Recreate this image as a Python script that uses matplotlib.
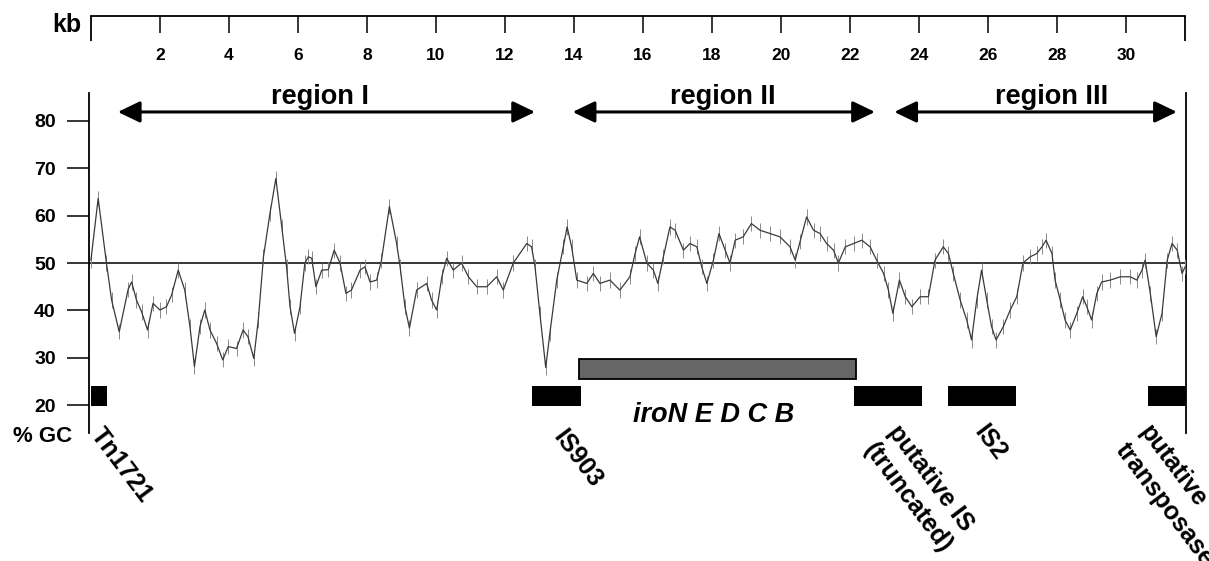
import matplotlib
matplotlib.use("Agg")
import matplotlib.pyplot as plt

plt.rcParams['font.family'] = ['Liberation Sans', 'DejaVu Sans']
plt.rcParams['font.weight'] = 'bold'

# ---------------- data ----------------
kb_pos = [0.0, 0.21, 0.45, 0.6, 0.82, 1.08, 1.18, 1.32, 1.47, 1.64, 1.8, 2.0, 2.19, 2.34,
          2.53, 2.72, 2.87, 3.0, 3.16, 3.3, 3.45, 3.64, 3.82, 3.98, 4.22, 4.41, 4.55, 4.72,
          4.85, 5.0, 5.19, 5.36, 5.53, 5.67, 5.77, 5.9, 6.06, 6.2, 6.3, 6.4, 6.52, 6.69,
          6.88, 7.05, 7.22, 7.39, 7.55, 7.8, 7.94, 8.09, 8.28, 8.42, 8.65, 8.86, 8.96, 9.1,
          9.23, 9.44, 9.73, 9.87, 10.02, 10.17, 10.31, 10.5, 10.74, 10.94, 11.18, 11.47,
          11.76, 11.95, 12.24, 12.63, 12.77, 12.87, 13.01, 13.18, 13.3, 13.5, 13.69, 13.8,
          13.93, 14.08, 14.37, 14.56, 14.75, 15.04, 15.33, 15.62, 15.77, 15.9, 16.11, 16.3,
          16.43, 16.59, 16.78, 16.93, 17.17, 17.36, 17.56, 17.7, 17.85, 18.04, 18.2, 18.38,
          18.52, 18.67, 18.9, 19.14, 19.39, 19.68, 19.97, 20.26, 20.41, 20.55, 20.74, 20.94,
          21.13, 21.32, 21.52, 21.66, 21.86, 22.1, 22.34, 22.58, 22.77, 22.97, 23.11, 23.24,
          23.43, 23.6, 23.79, 24.03, 24.27, 24.46, 24.7, 24.85, 24.99, 25.19, 25.38, 25.52,
          25.67, 25.81, 25.96, 26.1, 26.23, 26.44, 26.64, 26.83, 27.01, 27.22, 27.41, 27.56,
          27.68, 27.85, 27.94, 28.09, 28.23, 28.38, 28.57, 28.74, 28.86, 29.0, 29.15, 29.29,
          29.54, 29.83, 30.12, 30.31, 30.46, 30.55, 30.7, 30.87, 31.04, 31.19, 31.33, 31.48,
          31.62, 31.71]
gc_pct = [50.6, 63.6, 50.0, 42.2, 35.5, 44.5, 46.0, 42.2, 39.7, 35.9, 41.5, 40.1, 40.8, 43.3,
          48.5, 44.3, 36.6, 28.2, 36.6, 40.1, 35.9, 33.1, 29.6, 32.4, 32.0, 35.9, 34.5, 29.9,
          38.0, 51.3, 60.5, 67.8, 57.6, 49.2, 40.8, 35.2, 40.8, 50.0, 51.3, 51.0, 45.0, 48.5,
          48.6, 52.7, 50.0, 43.6, 44.3, 48.5, 49.2, 46.0, 46.4, 50.6, 61.9, 54.1, 49.2, 40.8,
          36.3, 44.3, 45.7, 42.2, 40.1, 47.1, 51.0, 48.5, 50.0, 47.1, 45.0, 45.0,
          47.1, 44.3, 50.0, 54.1, 53.4, 49.2, 39.4, 28.0, 35.2, 46.4, 53.4, 57.6,
          53.4, 46.4, 45.7, 47.8, 45.7, 46.4, 44.3, 47.1, 52.0, 55.5, 50.0, 48.5,
          45.7, 51.3, 57.6, 56.9, 52.7, 54.1, 53.4, 49.2, 45.7, 50.6, 56.2, 52.7,
          50.0, 54.8, 55.5, 58.3, 56.9, 56.2, 55.5, 53.4, 50.6, 54.5, 59.7, 56.9,
          56.2, 54.1, 52.7, 50.0, 53.4, 54.1, 54.8, 53.4, 50.6, 47.8, 44.3, 39.4,
          46.4, 42.9, 40.8, 42.9, 42.9, 50.6, 53.4, 52.0, 47.8, 42.2, 38.0, 33.8,
          42.2, 48.5, 42.2, 36.6, 33.8, 36.6, 40.1, 42.9, 50.0, 51.3, 52.0, 53.4,
          54.8, 52.0, 46.4, 42.2, 38.0, 35.9, 39.4, 42.9, 40.8, 38.0, 43.6, 46.0,
          46.4, 47.1, 47.1, 46.4, 48.5, 50.6, 43.6, 34.5, 39.4, 50.6, 54.1, 52.7,
          47.8, 49.2]

mean_gc = 50.0

kb_ticks = [2, 4, 6, 8, 10, 12, 14, 16, 18, 20, 22, 24, 26, 28, 30]
gc_ticks = [20, 30, 40, 50, 60, 70, 80]
kb_start, kb_end = 0.0, 31.72

region_names = ['region I', 'region II', 'region III']
region_start = [0.78, 13.96, 23.28]
region_end = [12.87, 22.72, 31.47]

element_names = ['Tn1721', 'IS903', 'putative IS\n(truncated)', 'IS2', 'putative\ntransposase']
element_start = [0.0, 12.79, 22.12, 24.85, 30.62]
element_end = [0.48, 14.20, 24.07, 26.81, 31.74]

gene_name = 'iroN E D C B'
gene_start, gene_end = 14.15, 22.17

# ---------------- layout ----------------
W, H = 1209, 561
fig = plt.figure(figsize=(W / 100, H / 100), dpi=100)

def px_box(x0, y0, x1, y1):
    return [x0 / W, 1 - y1 / H, (x1 - x0) / W, (y1 - y0) / H]

ax = fig.add_axes(px_box(88.5, 93, 1185.5, 433))
ax.set_xlim(-0.07, kb_end)
ax.set_ylim(14.21, 85.79)
for s in ['top', 'bottom']:
    ax.spines[s].set_visible(False)
for s in ['left', 'right']:
    ax.spines[s].set_linewidth(1.3)
ax.set_xticks([])
ax.set_yticks(gc_ticks)
ax.tick_params(axis='y', direction='out', length=16, width=1.1, pad=7.5,
               labelsize=14, right=False)
for lab in ax.get_yticklabels():
    lab.set_fontweight('bold')

# mean line
ax.axhline(mean_gc, color='black', lw=1.1, zorder=2)

# GC curve with hairs
ax.vlines(kb_pos, [g - 1.6 for g in gc_pct], [g + 1.6 for g in gc_pct],
          color='#8a8a8a', lw=0.7, zorder=3)
ax.plot(kb_pos, gc_pct, color='#3a3a3a', lw=0.9, zorder=4)

# region arrows
region_label_kb = [6.65, 18.3, 27.85]
for name, a, b, lx in zip(region_names, region_start, region_end, region_label_kb):
    ax.annotate('', xy=(b, 81.8), xytext=(a, 81.8),
                arrowprops=dict(arrowstyle='<|-|>,head_length=1.35,head_width=0.65',
                                lw=2.2, color='black', mutation_scale=10,
                                shrinkA=0, shrinkB=0))
    ax.text(lx, 85.0, name, ha='center', va='center', fontsize=19.5,
            fontweight='bold', clip_on=False)

# gene cluster (gray bar)
ax.barh(27.7, gene_end - gene_start, left=gene_start, height=4.3, color='#666666',
        edgecolor='black', lw=1.3, zorder=3)
ax.text(18.06, 18.0, gene_name, ha='center', va='center',
        fontsize=19.5, fontweight='bold', style='italic')

# mobile elements (black bars)
ax.barh(21.9, [e - s for s, e in zip(element_start, element_end)], left=element_start,
        height=4.2, color='black', zorder=3, clip_on=False)
label_anchor = [(0.4, 16.3), (13.8, 15.8), (23.5, 16.9), (26.0, 16.9), (30.8, 16.9)]
for name, (lx, ly) in zip(element_names, label_anchor):
    ax.text(lx, ly, name, rotation=-53, rotation_mode='anchor', ha='left', va='top',
            fontsize=18, fontweight='bold', clip_on=False, linespacing=1.3)

# % GC label
fig.text(13 / W, 1 - 437 / H, '% GC', ha='left', va='center', fontsize=16,
         fontweight='bold')

# ---------------- top kb scale ----------------
ax2 = fig.add_axes([88.5 / W, 1 - 15.7 / H, 1097 / W, 0.0005])
ax2.set_xlim(-0.07, kb_end)
ax2.set_ylim(0, 1)
for s in ['top', 'left', 'right']:
    ax2.spines[s].set_visible(False)
ax2.spines['bottom'].set_bounds(kb_start, kb_end)
ax2.spines['bottom'].set_linewidth(1.3)
ax2.set_yticks([])
ax2.set_xticks(kb_ticks)
ax2.set_xticks([kb_start, kb_end], minor=True)
ax2.tick_params(axis='x', which='major', direction='out', length=12.2, width=1.1,
                pad=11, labelsize=12.5)
ax2.tick_params(axis='x', which='minor', direction='out', length=18, width=1.3)
for lab in ax2.get_xticklabels():
    lab.set_fontweight('bold')
ax2.patch.set_visible(False)

fig.text(81 / W, 1 - 31.7 / H, 'kb', ha='right', va='baseline', fontsize=18,
         fontweight='bold')

fig.savefig('out.png', dpi=100, facecolor='white')
